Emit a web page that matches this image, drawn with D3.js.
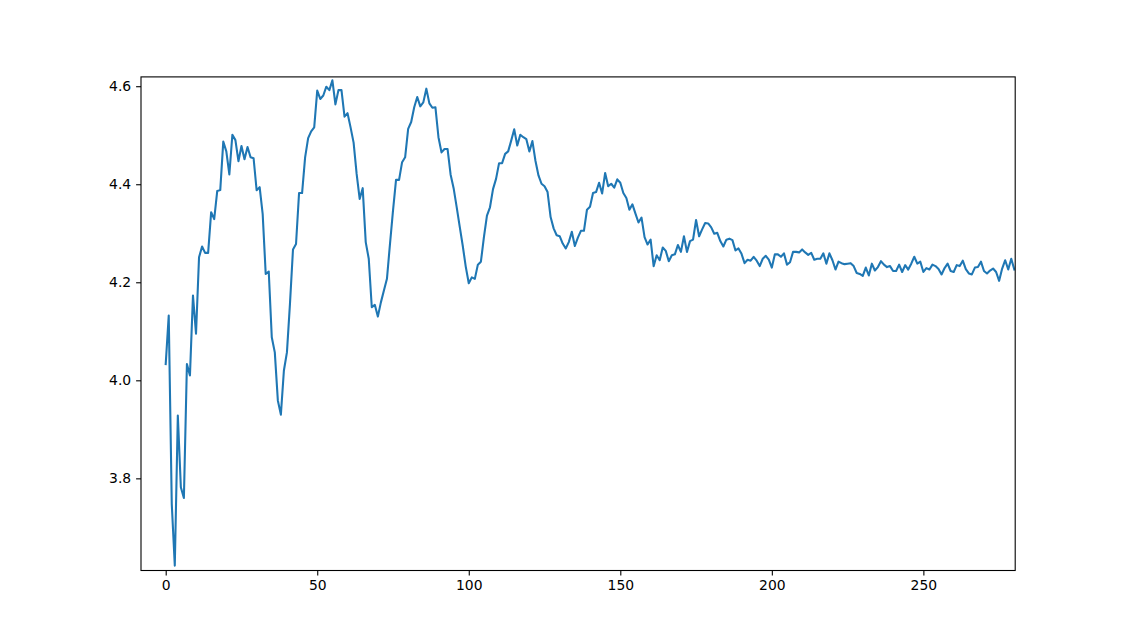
<!DOCTYPE html>
<html>
<head>
<meta charset="utf-8">
<script src="https://cdn.jsdelivr.net/npm/d3@7"></script>
<style>
  body { margin: 0; background: #fff; }
  .tick text { font-family: "DejaVu Sans", sans-serif; font-size: 13.9px; fill: #000; }
</style>
</head>
<body>
<div id="chart"></div>
<script>
// values, one per step (0..280)
const series = [
  4.033, 4.132, 3.748, 3.622, 3.928, 3.782, 3.760, 4.033, 4.010, 4.173,
  4.095, 4.251, 4.273, 4.260, 4.260, 4.343, 4.329, 4.386, 4.388, 4.487,
  4.467, 4.420, 4.501, 4.490, 4.447, 4.478, 4.451, 4.476, 4.455, 4.453,
  4.388, 4.394, 4.339, 4.217, 4.222, 4.088, 4.057, 3.959, 3.930, 4.020,
  4.057, 4.156, 4.267, 4.278, 4.382, 4.382, 4.455, 4.494, 4.508, 4.516,
  4.591, 4.574, 4.581, 4.599, 4.592, 4.612, 4.563, 4.592, 4.592, 4.538,
  4.545, 4.516, 4.485, 4.421, 4.370, 4.392, 4.282, 4.248, 4.149, 4.154,
  4.130, 4.159, 4.183, 4.207, 4.278, 4.346, 4.409, 4.409, 4.445, 4.455,
  4.513, 4.527, 4.557, 4.578, 4.559, 4.567, 4.595, 4.565, 4.556, 4.557,
  4.496, 4.465, 4.472, 4.472, 4.420, 4.392, 4.354, 4.314, 4.275, 4.232,
  4.198, 4.210, 4.207, 4.236, 4.242, 4.292, 4.336, 4.353, 4.390, 4.411,
  4.443, 4.443, 4.462, 4.467, 4.489, 4.512, 4.479, 4.501, 4.496, 4.492,
  4.467, 4.488, 4.448, 4.418, 4.401, 4.396, 4.384, 4.333, 4.310, 4.296,
  4.294, 4.279, 4.269, 4.282, 4.303, 4.274, 4.291, 4.305, 4.305, 4.348,
  4.354, 4.382, 4.384, 4.403, 4.381, 4.423, 4.396, 4.401, 4.393, 4.410,
  4.403, 4.382, 4.372, 4.348, 4.359, 4.340, 4.322, 4.332, 4.292, 4.277,
  4.287, 4.233, 4.255, 4.245, 4.271, 4.264, 4.243, 4.255, 4.257, 4.276,
  4.262, 4.294, 4.262, 4.284, 4.287, 4.327, 4.294, 4.308, 4.321, 4.320,
  4.312, 4.299, 4.301, 4.284, 4.273, 4.287, 4.289, 4.286, 4.265, 4.269,
  4.258, 4.239, 4.246, 4.244, 4.252, 4.244, 4.233, 4.248, 4.254, 4.246,
  4.230, 4.257, 4.257, 4.252, 4.259, 4.236, 4.241, 4.262, 4.262, 4.261,
  4.267, 4.261, 4.256, 4.260, 4.246, 4.248, 4.248, 4.259, 4.238, 4.259,
  4.245, 4.226, 4.242, 4.239, 4.237, 4.238, 4.239, 4.233, 4.219, 4.217,
  4.213, 4.230, 4.214, 4.238, 4.224, 4.231, 4.243, 4.236, 4.231, 4.233,
  4.223, 4.223, 4.236, 4.221, 4.235, 4.226, 4.238, 4.252, 4.238, 4.242,
  4.221, 4.229, 4.226, 4.236, 4.233, 4.227, 4.216, 4.229, 4.238, 4.223,
  4.221, 4.235, 4.233, 4.244, 4.227, 4.218, 4.216, 4.230, 4.231, 4.242,
  4.223, 4.218, 4.224, 4.228, 4.221, 4.203, 4.228, 4.245, 4.226, 4.248,
  4.226
];
const xTicks = [0, 50, 100, 150, 200, 250];
const yTicks = [3.8, 4.0, 4.2, 4.4, 4.6];
const xRange = [-8.15, 280.3];
const yRange = [3.612, 4.619];

const width = 1128, height = 641;
// matplotlib default subplot box
const margin = {top: 76.9, right: 112.8, bottom: 70.5, left: 141};

const svg = d3.select("#chart").append("svg")
    .attr("width", width)
    .attr("height", height);

const x = d3.scaleLinear().domain(xRange).range([margin.left, width - margin.right]);
const y = d3.scaleLinear().domain(yRange).range([height - margin.bottom, margin.top]);

svg.append("clipPath").attr("id", "plotArea")
  .append("rect")
    .attr("x", margin.left).attr("y", margin.top)
    .attr("width", width - margin.left - margin.right)
    .attr("height", height - margin.top - margin.bottom);

const line = d3.line()
    .x((d, i) => x(i))
    .y(d => y(d));

svg.append("path")
    .datum(series)
    .attr("clip-path", "url(#plotArea)")
    .attr("fill", "none")
    .attr("stroke", "#1f77b4")
    .attr("stroke-width", 2.08)
    .attr("stroke-linejoin", "round")
    .attr("stroke-linecap", "square")
    .attr("d", line);

// axes
const xAxis = svg.append("g")
    .attr("transform", `translate(0,${height - margin.bottom})`)
    .call(d3.axisBottom(x).tickValues(xTicks).tickFormat(d3.format("d")).tickSize(4.9).tickPadding(4.9));

const yAxis = svg.append("g")
    .attr("transform", `translate(${margin.left},0)`)
    .call(d3.axisLeft(y).tickValues(yTicks).tickFormat(d3.format(".1f")).tickSize(4.9).tickPadding(4.9));

[xAxis, yAxis].forEach(g => {
  g.select(".domain").remove();
  g.selectAll(".tick line").attr("stroke", "#000").attr("stroke-width", 1.1);
});

// frame around the plot
svg.append("rect")
    .attr("x", margin.left).attr("y", margin.top)
    .attr("width", width - margin.left - margin.right)
    .attr("height", height - margin.top - margin.bottom)
    .attr("fill", "none")
    .attr("stroke", "#000")
    .attr("stroke-width", 1.1);
</script>
</body>
</html>
